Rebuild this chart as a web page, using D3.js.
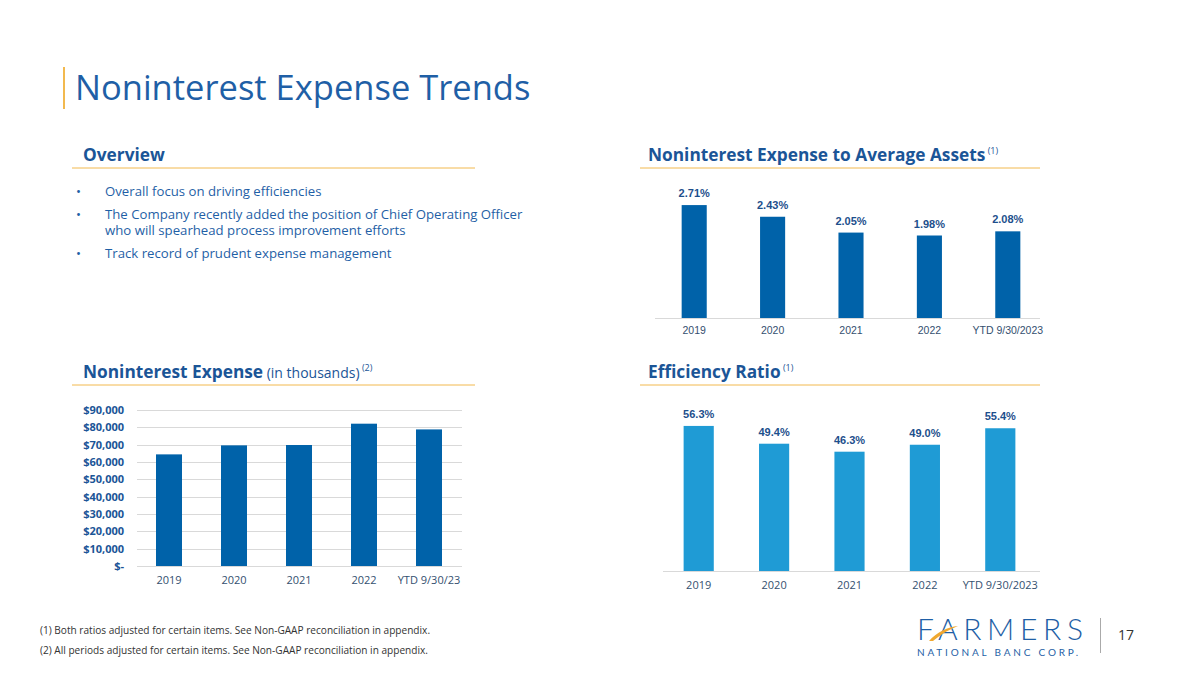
<!DOCTYPE html>
<html>
<head>
<meta charset="utf-8">
<script src="https://cdn.jsdelivr.net/npm/d3@7"></script>
<style>
  body { margin: 0; background: #fff; }
  svg { display: block; }
</style>
</head>
<body>
<div id="slide"></div>
<script>
// values
var assetCats = ["2019", "2020", "2021", "2022", "YTD 9/30/2023"];
var assetRatio = [2.71, 2.43, 2.05, 1.98, 2.08];

var expenseCats = ["2019", "2020", "2021", "2022", "YTD 9/30/23"];
var expense = [64400, 69600, 69800, 82100, 78800];
var expenseTicks = [0, 10000, 20000, 30000, 40000, 50000, 60000, 70000, 80000, 90000];

var effCats = ["2019", "2020", "2021", "2022", "YTD 9/30/2023"];
var efficiency = [56.3, 49.4, 46.3, 49.0, 55.4];

var bullets = [
  ["Overall focus on driving efficiencies"],
  ["The Company recently added the position of Chief Operating Officer", "who will spearhead process improvement efforts"],
  ["Track record of prudent expense management"]
];
var footnotes = [
  "(1) Both ratios adjusted for certain items. See Non-GAAP reconciliation in appendix.",
  "(2) All periods adjusted for certain items. See Non-GAAP reconciliation in appendix."
];

var blue = "#1f5fa6", heading = "#1b5597", orange = "#f2b94f";
var darkBar = "#0062a9", lightBar = "#1f9bd5", labelBlue = "#1d4f8c", axisText = "#34506f";

var svg = d3.select("#slide").append("svg").attr("width", 1200).attr("height", 675);

// title
svg.append("rect").attr("x", 63).attr("y", 67).attr("width", 2).attr("height", 42).attr("fill", orange);
svg.append("text").attr("x", 75).attr("y", 100)
  .style("font", "34.5px 'Open Sans'").attr("fill", blue).text("Noninterest Expense Trends");

function sectionHead(x, y, x0, x1, main, extra, note){
  var t = svg.append("text").attr("x", x).attr("y", y).attr("fill", heading)
    .style("font-family", "'Open Sans'");
  t.append("tspan").style("font-weight", "bold").style("font-size", "17.3px").text(main);
  if (extra) t.append("tspan").style("font-size", "14px").text(" " + extra);
  t.append("tspan").style("font-size", "9px").attr("dy", -7).text(" " + note);
  svg.append("line").attr("x1", x0).attr("x2", x1).attr("y1", y + 7).attr("y2", y + 7)
    .attr("stroke", orange).attr("stroke-width", 1);
}

// overview
svg.append("text").attr("x", 83).attr("y", 161).attr("fill", heading)
  .style("font", "bold 17.3px 'Open Sans'").text("Overview");
svg.append("line").attr("x1", 72).attr("x2", 475).attr("y1", 168).attr("y2", 168)
  .attr("stroke", orange).attr("stroke-width", 1);

var by = 196;
bullets.forEach(function(b){
  svg.append("text").attr("x", 76).attr("y", by).attr("fill", blue)
    .style("font", "13.2px 'Open Sans'").text("•");
  var t = svg.append("text").attr("y", by).attr("fill", blue).style("font", "13.2px 'Open Sans'");
  b.forEach(function(line, i){
    t.append("tspan").attr("x", 105).attr("dy", i ? 16 : 0).text(line);
  });
  by += (b.length - 1) * 16 + 23;
});

sectionHead(648, 161, 640, 1040, "Noninterest Expense to Average Assets", null, "(1)");
sectionHead(83, 378, 72, 475, "Noninterest Expense", "(in thousands)", "(2)");
sectionHead(648, 378, 640, 1040, "Efficiency Ratio", null, "(1)");

// simple bar chart with value labels and a baseline
function labelledBars(cats, vals, cfg){
  var x = d3.scaleBand().domain(cats).range(cfg.xr).paddingInner(cfg.pad).paddingOuter(cfg.pad / 2);
  var y = d3.scaleLinear().domain(cfg.yd).range([cfg.base, cfg.top]);
  var g = svg.append("g");
  g.selectAll("rect").data(vals).enter().append("rect")
    .attr("x", function(d, i){ return x(cats[i]); })
    .attr("y", function(d){ return y(d); })
    .attr("width", x.bandwidth())
    .attr("height", function(d){ return cfg.base - y(d); })
    .attr("fill", cfg.color);
  g.selectAll(".val").data(vals).enter().append("text")
    .attr("x", function(d, i){ return x(cats[i]) + x.bandwidth() / 2; })
    .attr("y", function(d){ return y(d) - 8; })
    .attr("text-anchor", "middle").attr("fill", labelBlue)
    .style("font", "bold 11px 'Liberation Sans', Arial")
    .text(cfg.fmt);
  g.append("line").attr("x1", cfg.line[0]).attr("x2", cfg.line[1])
    .attr("y1", cfg.base + 0.5).attr("y2", cfg.base + 0.5).attr("stroke", "#d9d9d9");
  var ax = g.append("g").attr("transform", "translate(0," + cfg.base + ")")
    .call(d3.axisBottom(x).tickSize(0).tickPadding(cfg.tickPad));
  ax.select(".domain").remove();
  ax.selectAll("text").attr("fill", axisText).style("font", cfg.tickFont);
}

labelledBars(assetCats, assetRatio, {
  xr: [655, 1047], pad: 0.68, yd: [0, 3], base: 318, top: 193, color: darkBar,
  line: [655, 1040], tickPad: 9, tickFont: "10.5px 'Liberation Sans', Arial",
  fmt: function(d){ return d.toFixed(2) + "%"; }
});

labelledBars(effCats, efficiency, {
  xr: [661, 1038], pad: 0.6, yd: [0, 60], base: 571, top: 571 - 154.6, color: lightBar,
  line: [663, 1040], tickPad: 10, tickFont: "11px 'Open Sans'",
  fmt: function(d){ return d.toFixed(1) + "%"; }
});

// noninterest expense, with gridlines and dollar axis
(function(){
  var x = d3.scaleBand().domain(expenseCats).range([136.5, 461.5]).paddingInner(0.6).paddingOuter(0.3);
  var y = d3.scaleLinear().domain([0, 90000]).range([566, 410]);
  var g = svg.append("g");
  g.selectAll(".grid").data(expenseTicks).enter().append("line")
    .attr("x1", 137).attr("x2", 462)
    .attr("y1", function(d){ return Math.round(y(d)) + 0.5; })
    .attr("y2", function(d){ return Math.round(y(d)) + 0.5; })
    .attr("stroke", "#d9d9d9");
  var fmt = d3.format(",");
  var ya = g.append("g").attr("transform", "translate(137,0)")
    .call(d3.axisLeft(y).tickValues(expenseTicks).tickSize(0).tickPadding(13)
      .tickFormat(function(d){ return d === 0 ? "$-" : "$" + fmt(d); }));
  ya.select(".domain").remove();
  ya.selectAll("text").attr("fill", heading).style("font", "bold 11px 'Open Sans'");
  g.selectAll("rect").data(expense).enter().append("rect")
    .attr("x", function(d, i){ return x(expenseCats[i]); })
    .attr("y", function(d){ return y(d); })
    .attr("width", x.bandwidth())
    .attr("height", function(d){ return 566 - y(d); })
    .attr("fill", darkBar);
  var xa = g.append("g").attr("transform", "translate(0,566)")
    .call(d3.axisBottom(x).tickSize(0).tickPadding(10));
  xa.select(".domain").remove();
  xa.selectAll("text").attr("fill", axisText).style("font", "11px 'Open Sans'");
})();

// footnotes
footnotes.forEach(function(f, i){
  svg.append("text").attr("x", 40).attr("y", 634 + i * 20).attr("fill", "#333")
    .style("font", "10.1px 'Open Sans'").text(f);
});

// logo
var logo = svg.append("g");
logo.append("text").attr("x", 917).attr("y", 640).attr("fill", blue)
  .style("font", "300 30px Lato")
  .attr("textLength", 166).attr("lengthAdjust", "spacing").text("FARMERS");
logo.append("text").attr("x", 917).attr("y", 656).attr("fill", blue)
  .style("font", "10px Lato")
  .attr("textLength", 161).attr("lengthAdjust", "spacing").text("NATIONAL BANC CORP.");
logo.append("path").attr("d", "M929,641 C937,632 948,627 958,626 C950,629 941,634 933,641 Z")
  .attr("fill", "#f0a830");
logo.append("line").attr("x1", 1100.5).attr("x2", 1100.5).attr("y1", 618).attr("y2", 653)
  .attr("stroke", "#aaa");
svg.append("text").attr("x", 1118).attr("y", 640).attr("fill", "#333")
  .style("font", "14px 'Open Sans'").text("17");
</script>
</body>
</html>
